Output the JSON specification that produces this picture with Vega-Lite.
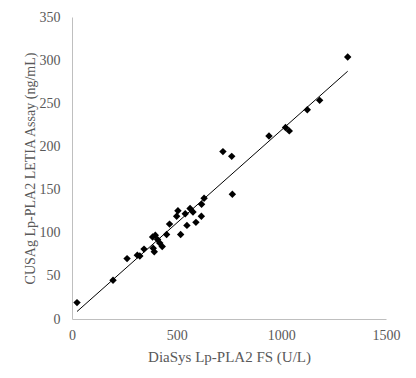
{
  "$schema": "https://vega.github.io/schema/vega-lite/v6.json",
  "autosize": "none",
  "width": 314,
  "height": 302,
  "padding": {"left": 72, "top": 17, "right": 30, "bottom": 59},
  "background": "white",
  "data": {
    "values": [
      {"diasys": 24, "cusag": 19},
      {"diasys": 196, "cusag": 45},
      {"diasys": 263, "cusag": 70},
      {"diasys": 312, "cusag": 74},
      {"diasys": 324, "cusag": 73},
      {"diasys": 344, "cusag": 81},
      {"diasys": 385, "cusag": 95},
      {"diasys": 393, "cusag": 78},
      {"diasys": 388, "cusag": 82},
      {"diasys": 398, "cusag": 97},
      {"diasys": 409, "cusag": 92},
      {"diasys": 419, "cusag": 88},
      {"diasys": 431, "cusag": 84},
      {"diasys": 452, "cusag": 98},
      {"diasys": 466, "cusag": 110},
      {"diasys": 500, "cusag": 119},
      {"diasys": 506, "cusag": 125.5},
      {"diasys": 519, "cusag": 98},
      {"diasys": 541, "cusag": 122},
      {"diasys": 549, "cusag": 108.5},
      {"diasys": 564, "cusag": 128},
      {"diasys": 578, "cusag": 124},
      {"diasys": 592, "cusag": 112},
      {"diasys": 618, "cusag": 119},
      {"diasys": 619, "cusag": 133},
      {"diasys": 631, "cusag": 140},
      {"diasys": 721, "cusag": 194},
      {"diasys": 763, "cusag": 188.5},
      {"diasys": 766, "cusag": 144.5},
      {"diasys": 941, "cusag": 212},
      {"diasys": 1020, "cusag": 222},
      {"diasys": 1038, "cusag": 218},
      {"diasys": 1124, "cusag": 242.6},
      {"diasys": 1183, "cusag": 253.4},
      {"diasys": 1317, "cusag": 303.6}
    ]
  },
  "encoding": {
    "x": {
      "field": "diasys", "type": "quantitative",
      "scale": {"domain": [0, 1500], "nice": false, "zero": true},
      "axis": {"title": "DiaSys Lp-PLA2 FS (U/L)", "values": [0, 500, 1000, 1500], "format": "d", "titlePadding": 7, "labelPadding": 9, "titleFontSize": 15, "labelFlush": false}
    },
    "y": {
      "field": "cusag", "type": "quantitative",
      "scale": {"domain": [0, 350], "nice": false},
      "axis": {"title": "CUSAg Lp-PLA2 LETIA Assay (ng/mL)", "values": [0, 50, 100, 150, 200, 250, 300, 350], "format": "d", "labelPadding": 12, "titlePadding": 2, "labelFlush": false}
    }
  },
  "layer": [
    {
      "mark": {"type": "point", "shape": "diamond", "filled": true, "color": "black", "size": 55, "opacity": 1}
    },
    {
      "transform": [{"regression": "cusag", "on": "diasys", "method": "linear"}],
      "mark": {"type": "line", "color": "black", "strokeWidth": 1}
    }
  ],
  "config": {
    "view": {"stroke": null},
    "font": "Liberation Serif",
    "axis": {
      "grid": false,
      "ticks": false,
      "domainColor": "#bfbfbf",
      "domainWidth": 1,
      "labelFont": "Liberation Serif",
      "titleFont": "Liberation Serif",
      "labelFontSize": 14,
      "titleFontSize": 14,
      "titleFontWeight": "normal",
      "labelColor": "#595959",
      "titleColor": "#595959"
    }
  }
}
